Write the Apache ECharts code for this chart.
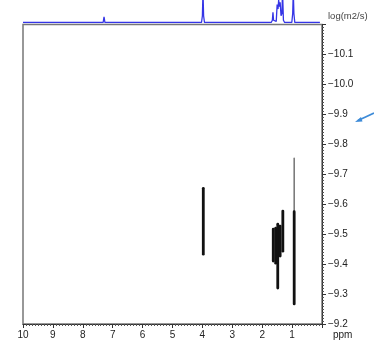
<!DOCTYPE html>
<html>
<head>
<meta charset="utf-8">
<script src="https://cdn.jsdelivr.net/npm/echarts@6/dist/echarts.min.js"></script>
<style>html,body{margin:0;padding:0;background:#fff}#c{width:374px;height:340px}</style>
</head>
<body>
<div id="c"></div>
<script>
// 1D projection spectrum (ppm, relative intensity)
var spectrumPoints = [
  [10,0],[7.32,0],[7.29,0.25],[7.26,0],[4.03,0],[4.00,0.3],[3.98,1.4],[3.96,0.3],[3.93,0],
  [1.70,0],[1.66,0.1],[1.64,0.45],[1.62,0.1],[1.53,0.05],[1.50,0.8],[1.47,0.6],[1.45,1.0],
  [1.42,0.7],[1.40,0.9],[1.37,0.3],[1.34,0.4],[1.32,1.4],[1.29,0.1],[1.25,0],
  [1.01,0],[0.98,0.4],[0.96,1.4],[0.94,0.4],[0.91,0],[0.07,0]
];
// DOSY streaks: [ppm, logD top, logD bottom, relative intensity]
var streaks = [
  [3.97, -9.653, -9.433, 1],
  [0.93, -9.753, -9.570, 0.3],
  [0.93, -9.575, -9.267, 1],
  [1.63, -9.517, -9.410, 1],
  [1.55, -9.520, -9.403, 1],
  [1.48, -9.533, -9.320, 1],
  [1.40, -9.527, -9.427, 1],
  [1.31, -9.577, -9.443, 1]
];
var xTickLabels = ['10','9','8','7','6','5','4','3','2','1'];
var yName = 'log(m2/s)';
var xName = 'ppm';

var chart = echarts.init(document.getElementById('c'), null, {renderer:'canvas'});
var font = 'Liberation Sans, Arial, sans-serif';
chart.setOption({
  animation:false,
  grid:[
    {left:23, right:52, top:24.5, bottom:16, show:true, borderColor:'#777', borderWidth:1.5, backgroundColor:'#fff'},
    {left:23, right:52, top:0, height:22.5, show:false}
  ],
  xAxis:[
    {gridIndex:0, type:'value', min:0, max:10, interval:1, inverse:true,
     axisLine:{show:true, onZero:false, lineStyle:{color:'#333', width:1}},
     axisTick:{show:true, length:4, lineStyle:{color:'#333'}},
     minorTick:{show:true, splitNumber:10, length:2, lineStyle:{color:'#555'}},
     splitLine:{show:false},
     axisLabel:{margin:6, fontSize:10, color:'#222', fontFamily:font,
       formatter:function(v){ var s=String(Math.round(v)); return xTickLabels.indexOf(s)>=0 ? s : ''; }}
    },
    {gridIndex:1, type:'value', min:0, max:10, inverse:true, show:false}
  ],
  yAxis:[
    {gridIndex:0, type:'value', min:-10.2, max:-9.2, interval:0.1, inverse:true, position:'right',
     axisLine:{show:true, onZero:false, lineStyle:{color:'#333', width:1}},
     axisTick:{show:true, length:4, lineStyle:{color:'#333'}},
     minorTick:{show:true, splitNumber:10, length:2, lineStyle:{color:'#555'}},
     splitLine:{show:false},
     axisLabel:{margin:6, fontSize:10, color:'#222', fontFamily:font,
       formatter:function(v){ if (v < -10.15) return ''; return v.toFixed(1).replace('-', '\u2212'); }}
    },
    {gridIndex:1, type:'value', min:0, max:1, show:false}
  ],
  series:[
    {type:'line', xAxisIndex:1, yAxisIndex:1, data:spectrumPoints, symbol:'none', clip:true,
     lineStyle:{color:'#3535e6', width:1.3}},
    {type:'custom', xAxisIndex:0, yAxisIndex:0, data:streaks, clip:true,
     renderItem:function(params, api){
       var p1 = api.coord([api.value(0), api.value(1)]);
       var p2 = api.coord([api.value(0), api.value(2)]);
       var k = api.value(3);
       return {type:'line', shape:{x1:p1[0], y1:p1[1], x2:p2[0], y2:p2[1]},
         style:{stroke: k < 0.5 ? '#777' : '#111', lineWidth: 1 + 1.8*k, lineCap:'round'}};
     }}
  ],
  graphic:[
    {type:'text', left:328, top:11, style:{text:yName, fontSize:9.5, fill:'#444', fontFamily:font}},
    {type:'text', left:333, top:330, style:{text:xName, fontSize:10, fill:'#222', fontFamily:font}},
    {type:'line', shape:{x1:374, y1:113, x2:358, y2:120.5}, style:{stroke:'#3d8bd8', lineWidth:1.6}},
    {type:'polygon', shape:{points:[[355,122],[361,117],[362.5,121.5]]}, style:{fill:'#3d8bd8'}}
  ]
});
</script>
</body>
</html>
